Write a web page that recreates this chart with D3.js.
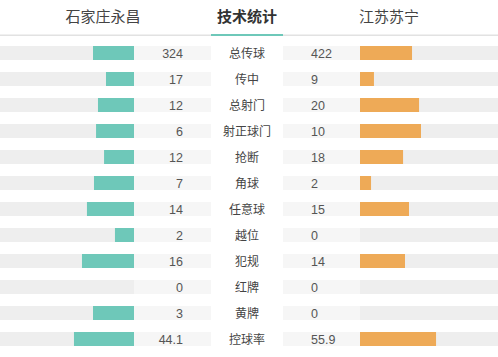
<!DOCTYPE html>
<html>
<head>
<meta charset="utf-8">
<title>技术统计</title>
<script src="https://d3js.org/d3.v7.min.js"></script>
<style>
  body { margin: 0; background: #fff; }
  #plot { width: 498px; height: 357px; }
  text { font-family: Arial, "Liberation Sans", "Noto Sans CJK SC", sans-serif; }
</style>
</head>
<body>
<div id="plot"></div>
<script>
  var homeTeam = '石家庄永昌'
  var awayTeam = '江苏苏宁'
  var title = '技术统计'

  var stats = ['总传球', '传中', '总射门', '射正球门', '抢断', '角球', '任意球', '越位', '犯规', '红牌', '黄牌', '控球率']
  var homeValues = ['324', '17', '12', '6', '12', '7', '14', '2', '16', '0', '3', '44.1']
  var awayValues = ['422', '9', '20', '10', '18', '2', '15', '0', '14', '0', '0', '55.9']
  // bar length, percent of the track
  var homePct = [29.7, 20.3, 26.1, 27.5, 21.7, 29.0, 34.1, 13.8, 37.7, 0, 29.7, 43.5]
  var awayPct = [37.7, 10.1, 42.8, 44.2, 31.2, 8.0, 35.5, 0, 32.6, 0, 0, 55.1]

  var width = 498, height = 357
  var svg = d3.select('#plot').append('svg')
      .attr('width', width)
      .attr('height', height)

  var y = d3.scaleBand()
      .domain(stats)
      .range([40, 40 + 26 * stats.length])
      .paddingInner(0)
  var barH = 14
  var barOff = (y.bandwidth() - barH) / 2

  var trackW = 138
  var len = d3.scaleLinear().domain([0, 100]).range([0, trackW])

  var leftTrackEnd = 134, numL0 = 134, numL1 = 211, mid0 = 211, mid1 = 283, numR1 = 360

  // header
  svg.append('text').attr('x', 103).attr('y', 22).attr('text-anchor', 'middle')
      .style('font-size', '15px').attr('fill', '#444').text(homeTeam)
  svg.append('text').attr('x', 247).attr('y', 22).attr('text-anchor', 'middle')
      .style('font-size', '15px').style('font-weight', 'bold').attr('fill', '#333').text(title)
  svg.append('text').attr('x', 389).attr('y', 22).attr('text-anchor', 'middle')
      .style('font-size', '15px').attr('fill', '#444').text(awayTeam)
  svg.append('rect').attr('x', 0).attr('y', 34.5).attr('width', width).attr('height', 1.5).attr('fill', '#e2e2e2')
  svg.append('rect').attr('x', mid0).attr('y', 34).attr('width', mid1 - mid0).attr('height', 2).attr('fill', '#6ec8b9')

  var rows = svg.selectAll('g.row')
      .data(stats)
      .enter()
      .append('g')
      .attr('class', 'row')
      .attr('transform', function(d){ return 'translate(0,' + (y(d) + barOff) + ')' })

  // tracks
  rows.append('rect').attr('x', leftTrackEnd - trackW).attr('width', trackW).attr('height', barH).attr('fill', '#eeeeee')
  rows.append('rect').attr('x', numR1).attr('width', trackW).attr('height', barH).attr('fill', '#eeeeee')
  rows.append('rect').attr('x', numL0).attr('width', numL1 - numL0).attr('height', barH).attr('fill', '#f6f6f6')
  rows.append('rect').attr('x', mid1).attr('width', numR1 - mid1).attr('height', barH).attr('fill', '#f6f6f6')

  // bars
  rows.append('rect')
      .attr('x', function(d, i){ return leftTrackEnd - len(homePct[i]) })
      .attr('width', function(d, i){ return len(homePct[i]) })
      .attr('height', barH)
      .attr('fill', '#6ec8b9')
  rows.append('rect')
      .attr('x', numR1)
      .attr('width', function(d, i){ return len(awayPct[i]) })
      .attr('height', barH)
      .attr('fill', '#eeaa57')

  // texts
  rows.append('text').attr('x', 183).attr('y', barH / 2 + 4.5).attr('text-anchor', 'end')
      .style('font-size', '12.5px').attr('fill', '#555')
      .text(function(d, i){ return homeValues[i] })
  rows.append('text').attr('x', 311).attr('y', barH / 2 + 4.5).attr('text-anchor', 'start')
      .style('font-size', '12.5px').attr('fill', '#555')
      .text(function(d, i){ return awayValues[i] })
  rows.append('text').attr('x', 247).attr('y', barH / 2 + 4.5).attr('text-anchor', 'middle')
      .style('font-size', '12px').attr('fill', '#444')
      .text(function(d){ return d })
</script>
</body>
</html>
